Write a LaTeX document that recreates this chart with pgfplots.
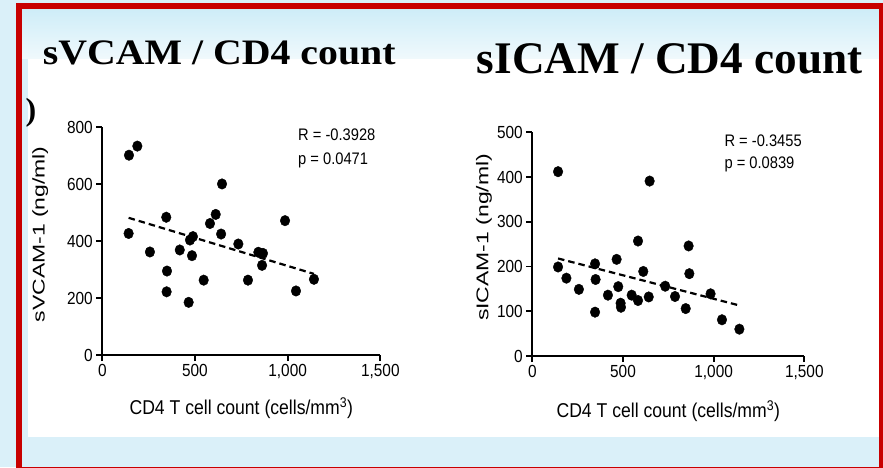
\documentclass[border=0pt]{standalone}
\usepackage{pgfplots}
\pgfplotsset{compat=1.18}
\usepackage{graphicx}
\usepackage{fontspec}
\setmainfont{Liberation Serif}
\newfontfamily\arialc[FakeStretch=0.88]{Liberation Sans}
\newfontfamily\arialv[FakeStretch=1.35]{Liberation Sans}
\definecolor{bgblue}{RGB}{218,240,249}
\definecolor{bgblue2}{RGB}{204,236,247}
\definecolor{framered}{RGB}{200,0,0}
\newcommand{\tickfont}{\arialc\fontsize{17.5}{19}\selectfont}
\newcommand{\labfont}{\arialc\fontsize{20}{22}\selectfont}
\newcommand{\ylabfont}{\arialv\fontsize{17}{19}\selectfont}
\newcommand{\annfont}{\arialc\fontsize{16.7}{18}\selectfont}
\pgfplotsset{
  prismstyle/.style={
    scale only axis, clip=false,
    xmin=0, xmax=1500, ymin=0,
    axis x line*=bottom, axis y line*=left,
    axis line style={line width=1.9pt, -},
    tick align=outside, major tick length=6pt,
    every tick/.style={black, line width=1.9pt},
    xtick={0,500,1000,1500}, xticklabels={0,500,{1,000},{1,500}},
    tick label style={font=\tickfont},
    xlabel={CD4 T cell count (cells/mm\textsuperscript{3})},
    xlabel style={font=\labfont, anchor=base},
    ylabel style={font=\ylabfont, anchor=center},
  },
  dots/.style={only marks, mark=*, mark size=4.8pt, mark options={fill=black, draw=black, yscale=1.1}},
  fitline/.style={black, line width=2.2pt, dash pattern=on 6.5pt off 4pt},
}
\begin{document}
\begin{tikzpicture}[x=1pt,y=1pt]
\useasboundingbox (0,0) rectangle (883,467);
\begin{scope}
\clip (0,0) rectangle (883,467);
\fill[bgblue] (0,0) rectangle (883,467);
\shade[top color=bgblue2, bottom color=white!60!bgblue] (22,408) rectangle (879,461);
\fill[white] (28,30) rectangle (879,408);
\draw[framered, line width=6pt] (19,-3) rectangle (882,461);
\end{scope}

\node[anchor=base west, inner sep=0] at (42.7,402.7) {\scalebox{1}[0.9]{\fontsize{39.8}{44}\selectfont\bfseries sVCAM / CD4 count}};
\node[anchor=base west, inner sep=0] at (476.7,393.7) {\fontsize{45.2}{50}\selectfont\bfseries sICAM / CD4 count};
\node[anchor=center, inner sep=0] at (31,354) {\fontsize{32}{34}\selectfont\bfseries )};

% left panel
\begin{axis}[prismstyle, at={(102.3pt,112pt)}, anchor=origin,
  width=278pt, height=227.7pt, ymax=800,
  ytick={0,200,400,600,800}, yticklabels={0,200,400,600,800},
  xlabel style={at={(axis description cs:0.5,-0.263)}},
  ylabel={sVCAM-1 (ng/ml)},
  ylabel style={at={(axis description cs:-0.223,0.53)}},
]
\addplot[dots] coordinates {
(144,702) (189,734) (646,601) (345,484) (612,494) (581,462) (986,472)
(142,427) (641,425) (489,416) (473,404) (734,390) (257,362) (418,369)
(484,349) (842,361) (867,357) (862,315) (349,295) (547,263) (786,263)
(1142,266) (347,222) (1045,225) (466,185)
};
\addplot[fitline] coordinates {(142,482) (1142,285)};
\node[anchor=base west, inner sep=0, font=\annfont] at (axis cs:1056,753) {R = -0.3928};
\node[anchor=base west, inner sep=0, font=\annfont] at (axis cs:1056,670) {p = 0.0471};
\end{axis}

% right panel
\begin{axis}[prismstyle, at={(532.3pt,111pt)}, anchor=origin,
  width=272pt, height=223.7pt, ymax=500,
  ytick={0,100,200,300,400,500}, yticklabels={0,100,200,300,400,500},
  xlabel style={at={(axis description cs:0.5,-0.277)}},
  ylabel={sICAM-1 (ng/ml)},
  ylabel style={at={(axis description cs:-0.178,0.53)}},
]
\addplot[dots] coordinates {
(142,412) (647,391) (583,257) (862,246) (465,216) (346,206) (142,199)
(612,189) (866,184) (188,174) (349,171) (733,156) (474,155) (257,149)
(983,139) (417,136) (548,136) (787,133) (642,132) (583,124) (487,118)
(489,109) (846,106) (346,98) (1046,81) (1142,60)
};
\addplot[fitline] coordinates {(142,218) (1142,113)};
\node[anchor=base west, inner sep=0, font=\annfont] at (axis cs:1059,468) {R = -0.3455};
\node[anchor=base west, inner sep=0, font=\annfont] at (axis cs:1059,418) {p = 0.0839};
\end{axis}
\end{tikzpicture}
\end{document}
